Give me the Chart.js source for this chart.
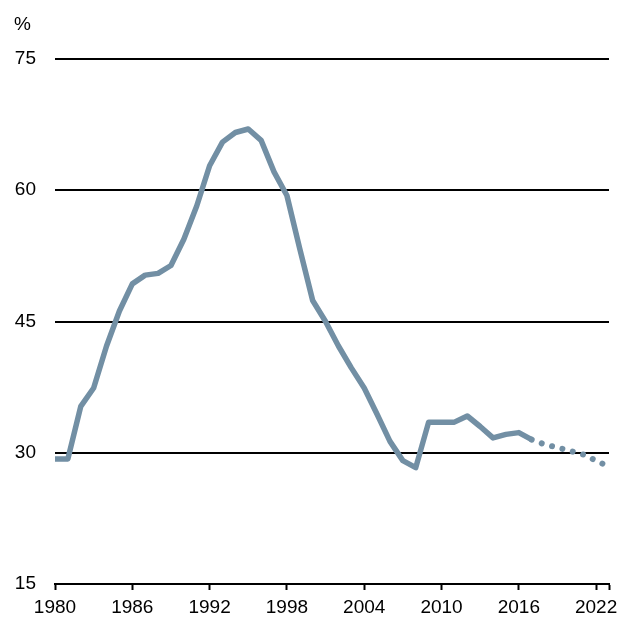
<!DOCTYPE html>
<html>
<head>
<meta charset="utf-8">
<script src="https://cdn.jsdelivr.net/npm/chart.js@4/dist/chart.umd.min.js"></script>
<style>
    html, body { margin: 0; padding: 0; background: #fff; }
    #chart { display: block; }
</style>
</head>
<body>
<canvas id="chart" width="622" height="618"></canvas>
<script>
// actual values, 1980 - 2017
const years = [ 1980, 1981, 1982, 1983, 1984, 1985, 1986, 1987, 1988, 1989,
                1990, 1991, 1992, 1993, 1994, 1995, 1996, 1997, 1998, 1999,
                2000, 2001, 2002, 2003, 2004, 2005, 2006, 2007, 2008, 2009,
                2010, 2011, 2012, 2013, 2014, 2015, 2016, 2017 ];
const values = [ 29.3, 29.3, 35.3, 37.4, 42.2, 46.2, 49.3, 50.3, 50.5, 51.4,
                 54.4, 58.2, 62.8, 65.5, 66.6, 67.0, 65.7, 62.1, 59.4, 53.3,
                 47.4, 45.0, 42.2, 39.7, 37.4, 34.4, 31.3, 29.1, 28.3, 33.5,
                 33.5, 33.5, 34.2, 33.0, 31.7, 32.1, 32.3, 31.5 ];

// projection, dotted
const projYears  = [ 2017, 2018, 2019, 2020, 2021, 2022, 2023 ];
const projValues = [ 31.5, 30.95, 30.6, 30.2, 29.8, 29.1, 28.4 ];

const xTicks = [ 1980, 1986, 1992, 1998, 2004, 2010, 2016, 2022 ];
const yTicks = [ 15, 30, 45, 60, 75 ];

const lineColor = 'rgb(114,143,164)';
const fontFamily = '"Liberation Sans", Arial, sans-serif';
const fontSize = 19;

function toPoints( xs, ys )
{
    return xs.map( ( x, i ) => ( { x : x, y : ys[ i ] } ) );
}

const percentLabel = {
    id : 'percentLabel',
    afterDraw( chart )
    {
        const ctx = chart.ctx;
        ctx.save();
        ctx.font = fontSize + 'px ' + fontFamily;
        ctx.fillStyle = '#000';
        ctx.textBaseline = 'alphabetic';
        ctx.fillText( '%', 14, 30 );
        ctx.restore();
    }
};

new Chart( document.getElementById( 'chart' ), {
    type : 'line',
    data : {
        datasets : [
            {
                data        : toPoints( years, values ),
                borderColor : lineColor,
                borderWidth : 5.5,
                pointRadius : 0,
                tension     : 0,
                borderJoinStyle : 'round',
            },
            {
                data        : toPoints( projYears, projValues ),
                borderColor : lineColor,
                borderWidth : 6,
                pointRadius : 0,
                tension     : 0,
                borderCapStyle : 'round',
                borderDash  : [ 0.001, 10.7 ],
            },
        ]
    },
    options : {
        responsive : false,
        animation  : false,
        events     : [],
        layout     : { padding : { top : 59, right : 13, bottom : 0, left : 0 } },
        plugins    : {
            legend  : { display : false },
            tooltip : { enabled : false },
        },
        scales : {
            x : {
                type : 'linear',
                min  : 1980,
                max  : 2023,
                afterBuildTicks( axis )
                {
                    axis.ticks = xTicks.concat( [ 2023 ] ).map( v => ( { value : v } ) );
                },
                afterFit( axis ) { axis.height = 34; },
                ticks : {
                    autoSkip  : false,
                    maxRotation : 0,
                    padding   : 6,
                    color     : '#000',
                    font      : { family : fontFamily, size : fontSize },
                    callback  : v => ( xTicks.includes( v ) ? String( v ) : '' ),
                },
                grid : {
                    drawOnChartArea : false,
                    drawTicks  : true,
                    tickLength : 6,
                    tickWidth  : 2,
                    tickColor  : '#000',
                },
                border : { display : true, color : '#000', width : 2 },
            },
            y : {
                min : 15,
                max : 75,
                afterBuildTicks( axis )
                {
                    axis.ticks = yTicks.map( v => ( { value : v } ) );
                },
                afterFit( axis ) { axis.width = 55; },
                ticks : {
                    padding : 19,
                    color   : '#000',
                    font    : { family : fontFamily, size : fontSize },
                },
                grid : {
                    color     : '#000',
                    lineWidth : 2,
                    drawTicks : false,
                },
                border : { display : false },
            },
        },
    },
    plugins : [ percentLabel ],
});
</script>
</body>
</html>
